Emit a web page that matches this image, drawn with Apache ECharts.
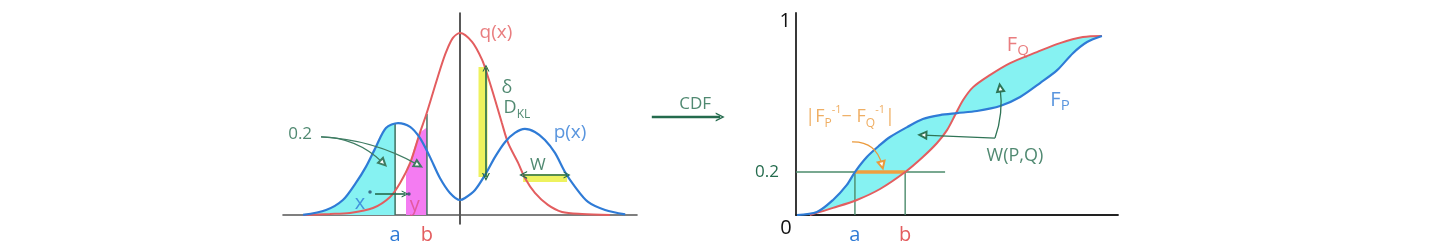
<!DOCTYPE html>
<html><head><meta charset="utf-8">
<script src="https://cdn.jsdelivr.net/npm/echarts@6/dist/echarts.min.js"></script>
<style>html,body{margin:0;padding:0;background:#fff}#c{width:1440px;height:245px}</style>
</head><body><div id="c"></div>
<script>
// ---------- Left panel: densities (x: axis units, y: q peak = 1) ----------
const densityQ = [[-5.32,0],[-4.41,0.005],[-3.73,0.011],[-2.95,0.038],[-2.37,0.099],[-2.03,0.176],[-1.69,0.286],[-1.36,0.451],[-1.15,0.549],[-0.92,0.670],[-0.68,0.797],[-0.47,0.896],[-0.24,0.973],[0,1.0],[0.41,0.951],[0.75,0.852],[0.95,0.758],[1.19,0.632],[1.42,0.505],[1.63,0.396],[1.97,0.286],[2.20,0.203],[2.54,0.121],[2.98,0.055],[3.46,0.016],[4.14,0.005],[5.08,0]];
const densityP = [[-5.32,0],[-4.54,0.027],[-3.97,0.082],[-3.53,0.176],[-3.19,0.264],[-2.85,0.374],[-2.51,0.478],[-2.10,0.505],[-1.69,0.484],[-1.36,0.423],[-1.02,0.319],[-0.68,0.203],[-0.34,0.121],[0,0.082],[0.17,0.093],[0.51,0.137],[0.85,0.220],[1.19,0.319],[1.53,0.401],[1.86,0.451],[2.20,0.473],[2.54,0.456],[2.88,0.412],[3.22,0.341],[3.56,0.236],[3.90,0.154],[4.34,0.071],[4.92,0.027],[5.60,0.003]];
const quantileA = -2.20, pAtA = 0.50;          // "a" on the left panel
const quantileB = -1.12, qAtB = 0.555;         // "b" on the left panel
const pAtAPeak = 0.505;
const shadeQ = [[-1.83,0.22],[-1.69,0.29],[-1.53,0.38],[-1.36,0.45],[-1.12,0.48]]; // magenta strip
const deltaBand = [[0.78,0.209],[0.78,0.813]];
const wBand = [[2.14,0.203],[3.63,0.203]];
const pointDots = [[-3.05,0.126],[-1.73,0.115]];
const leftTickValues = [quantileA, quantileB];
const leftTickLabels = ['a','b'];

// ---------- Right panel: CDFs ----------
const cdfP = [[0.03,0],[0.65,0.014],[1.15,0.070],[1.58,0.140],[1.83,0.200],[2.20,0.270],[2.61,0.326],[2.92,0.363],[3.45,0.409],[3.94,0.447],[4.47,0.465],[5.00,0.474],[5.62,0.484],[6.34,0.507],[6.96,0.549],[7.58,0.614],[8.11,0.674],[8.60,0.753],[9.04,0.805],[9.50,0.833]];
const cdfQ = [[0.43,0],[1.15,0.033],[1.89,0.070],[2.61,0.121],[3.39,0.200],[3.94,0.270],[4.38,0.335],[4.69,0.395],[4.94,0.465],[5.19,0.535],[5.50,0.595],[6.02,0.651],[6.65,0.707],[7.48,0.758],[8.20,0.800],[8.91,0.828],[9.50,0.833]];
const level = 0.2;
const invA = 1.83, invB = 3.39, levelLineEnd = 4.63;
const rightXTicks = [0, invA, invB];
const rightXLabels = ['0','a','b'];
const rightYTicks = [0.2, 0.903];
const rightYLabels = ['0.2','1'];

// ---------- Annotation arrows ----------
const leftDoubleArrows = [{coords:[[0.88,0.209],[0.88,0.808]]},{coords:[[2.14,0.22],[3.63,0.22]]}];
const leftSingleArrows = [{coords:[[-2.88,0.115],[-1.86,0.115]]}];
const leftLabelArrows = [{coords:[[-4.71,0.429],[-2.61,0.286]],curve:0.2},{coords:[[-4.71,0.429],[-1.42,0.275]],curve:0.12}];
const rightOrangeArrows = [{coords:[[1.74,0.340],[2.67,0.233]],curve:0.4}];
const rightGreenArrows = [{coords:[[6.18,0.358],[3.94,0.372]],curve:0},{coords:[[6.18,0.358],[6.34,0.591]],curve:-0.12}];
const cdfArrow = [{coords:[[0.05,0.267],[0.95,0.267]]}];

const FONT = "'Open Sans','Noto Sans',sans-serif";
const C = {red:'#e35d5f', blue:'#2f7bd6', green:'#246b4d', cyan:'#86f2f2', magenta:'#f47cf2',
           yellow:'#eef25e', orange:'#eb9a3c', axis:'#333', ink:'#3f6f5f', pinkText:'#e0508a'};
const CHEVRON = 'path://M0,10 L5,0 L10,10 L8.4,10 L5,3.2 L1.6,10 Z';

function lbl(value, text, color, size, rich) {
  return {value, label:{show:true, position:'inside', formatter:text, color, fontSize:size, fontFamily:FONT, rich: rich||{}}};
}
function labelSeries(xi, yi, items) {
  return {type:'scatter', xAxisIndex:xi, yAxisIndex:yi, symbolSize:1, itemStyle:{color:'transparent'},
          data:items, z:6, silent:true, clip:false};
}
function arrows(xi, yi, items, color, sym, size, width) {
  return {type:'lines', coordinateSystem:'cartesian2d', xAxisIndex:xi, yAxisIndex:yi, symbol:sym, symbolSize:size,
          lineStyle:{color, width, opacity:1}, z:5, silent:true, clip:false,
          data: items.map(it => ({coords: it.coords, lineStyle:{curveness: it.curve || 0}}))};
}
function seg(xi, yi, data, color, width, z) {
  return {type:'line', xAxisIndex:xi, yAxisIndex:yi, data, symbol:'none', lineStyle:{color, width}, z:z||3, silent:true};
}

const shadeP = densityP.filter(p => p[0] <= quantileA).concat([[quantileA, pAtA]]);
const polygon = cdfP.concat(cdfQ.slice().reverse());

const sub = (c, s) => ({color:c, fontSize:s, fontFamily:FONT, verticalAlign:'bottom', lineHeight:26});
const sup = (c, s) => ({color:c, fontSize:s, fontFamily:FONT, verticalAlign:'top', lineHeight:26});
const base = (c, s) => ({color:c, fontSize:s, fontFamily:FONT, lineHeight:26});

const option = {
  animation:false,
  backgroundColor:'#fff',
  grid:[
    {left:283, top:13, width:354, height:211, containLabel:false, outerBoundsMode:'none'},
    {left:796, top:13, width:322, height:202, containLabel:false, outerBoundsMode:'none'},
    {left:648, top:95, width:76, height:30, containLabel:false, outerBoundsMode:'none'}
  ],
  xAxis:[
    {gridIndex:0, type:'value', min:-6, max:6, splitLine:{show:false}, axisTick:{show:false},
     axisLine:{show:true, onZero:true, lineStyle:{color:'#555', width:1.6}},
     axisLabel:{show:true, customValues:leftTickValues, margin:1,
       formatter:v => { const i = leftTickValues.findIndex(t => Math.abs(t - v) < 1e-6); return i === 0 ? '{a|' + leftTickLabels[0] + '}' : '{b|' + leftTickLabels[1] + '}'; },
       rich:{a:{color:C.blue, fontSize:20, fontFamily:FONT}, b:{color:C.red, fontSize:20, fontFamily:FONT}}}},
    {gridIndex:1, type:'value', min:0, max:10, splitLine:{show:false}, axisTick:{show:false},
     axisLine:{show:true, onZero:true, lineStyle:{color:'#222', width:1.8}},
     axisLabel:{show:true, customValues:rightXTicks, margin:3,
       formatter:v => { const i = rightXTicks.findIndex(t => Math.abs(t - v) < 1e-6); return '{' + ['o','a','b'][i] + '|' + rightXLabels[i] + '}'; },
       rich:{o:{color:'#111', fontSize:20, fontFamily:FONT, padding:[0,20,0,0]},
             a:{color:C.blue, fontSize:20, fontFamily:FONT, padding:[7,0,0,0]},
             b:{color:C.red, fontSize:20, fontFamily:FONT, padding:[7,0,0,0]}}}},
    {gridIndex:2, type:'value', min:0, max:1, show:false}
  ],
  yAxis:[
    {gridIndex:0, type:'value', min:-0.05, max:1.11, splitLine:{show:false}, axisTick:{show:false}, axisLabel:{show:false},
     axisLine:{show:true, onZero:true, lineStyle:{color:'#222', width:1.5}}},
    {gridIndex:1, type:'value', min:0, max:0.94, splitLine:{show:false}, axisTick:{show:false},
     axisLine:{show:true, onZero:true, lineStyle:{color:'#222', width:1.8}},
     axisLabel:{show:true, customValues:rightYTicks, margin:5,
       formatter:v => (v < 0.5 ? '{g|' + rightYLabels[0] + '}' : '{k|' + rightYLabels[1] + '}'),
       rich:{g:{color:C.green, fontSize:17, fontFamily:FONT, padding:[0,12,0,0]}, k:{color:'#111', fontSize:20, fontFamily:FONT}}}},
    {gridIndex:2, type:'value', min:0, max:1, show:false}
  ],
  series:[
    // ---- left panel fills
    {type:'line', xAxisIndex:0, yAxisIndex:0, data:shadeP, symbol:'none', smooth:0.3, lineStyle:{width:0},
     areaStyle:{color:C.cyan, opacity:1}, z:1, silent:true},
    {type:'line', xAxisIndex:0, yAxisIndex:0, data:shadeQ, symbol:'none', smooth:0.2, lineStyle:{width:0},
     areaStyle:{color:C.magenta, opacity:1}, z:1, silent:true},
    seg(0,0, deltaBand, C.yellow, 9, 2),
    seg(0,0, wBand, C.yellow, 8, 2),
    seg(0,0, [[quantileA,0],[quantileA,pAtAPeak]], C.ink, 1.5, 3),
    seg(0,0, [[quantileB,0],[quantileB,qAtB]], C.ink, 1.5, 3),
    // ---- left curves
    {type:'line', xAxisIndex:0, yAxisIndex:0, data:densityQ, symbol:'none', smooth:0.3, lineStyle:{color:C.red, width:2}, z:4, silent:true},
    {type:'line', xAxisIndex:0, yAxisIndex:0, data:densityP, symbol:'none', smooth:0.3, lineStyle:{color:C.blue, width:2.2}, z:4, silent:true},
    {type:'scatter', xAxisIndex:0, yAxisIndex:0, data:pointDots, symbolSize:3.5, itemStyle:{color:'#2a4f6a'}, z:6, silent:true},
    arrows(0,0, leftDoubleArrows, C.green, [CHEVRON, CHEVRON], [8,7], 1.6),
    arrows(0,0, leftSingleArrows, C.green, ['none', CHEVRON], [8,7], 1.6),
    arrows(0,0, leftLabelArrows, '#3f7c63', ['none','emptyTriangle'], 7, 1.2),
    labelSeries(0,0, [
      lbl([1.22,1.0], 'q(x)', C.red, 19),
      lbl([3.73,0.45], 'p(x)', C.blue, 19),
      lbl([1.59,0.70], 'δ', C.green, 18),
      lbl([1.93,0.59], '{d|D}{k|KL}', C.green, 18, {d:base(C.green,18), k:sub(C.green,12)}),
      lbl([2.64,0.275], 'W', C.green, 17),
      lbl([-5.42,0.445], '0.2', C.green, 17),
      lbl([-3.39,0.066], 'x', C.blue, 20),
      lbl([-1.53,0.055], 'y', C.pinkText, 20)
    ]),
    // ---- right panel
    {type:'custom', xAxisIndex:1, yAxisIndex:1, data:[[0,0]], z:1, silent:true, clip:false,
     renderItem:(params, api) => ({type:'polygon', shape:{points: polygon.map(p => api.coord(p))}, style:{fill:C.cyan}})},
    seg(1,1, [[0,level],[levelLineEnd,level]], '#4b8b6b', 1.4, 3),
    seg(1,1, [[invA,0],[invA,level]], '#4b8b6b', 1.4, 3),
    seg(1,1, [[invB,0],[invB,level]], '#4b8b6b', 1.4, 3),
    seg(1,1, [[invA,level],[invB,level]], '#f0a040', 3.5, 4),
    {type:'line', xAxisIndex:1, yAxisIndex:1, data:cdfQ, symbol:'none', smooth:0.3, lineStyle:{color:C.red, width:2}, z:4, silent:true},
    {type:'line', xAxisIndex:1, yAxisIndex:1, data:cdfP, symbol:'none', smooth:0.3, lineStyle:{color:C.blue, width:2.2}, z:4, silent:true},
    arrows(1,1, rightOrangeArrows, C.orange, ['none','emptyTriangle'], 7, 1.2),
    arrows(1,1, rightGreenArrows, '#2f7456', ['none','emptyTriangle'], 7, 1.3),
    labelSeries(1,1, [
      lbl([6.89,0.791], '{f|F}{s|Q}', C.red, 20, {f:base(C.red,20), s:sub(C.red,15)}),
      lbl([8.2,0.535], '{f|F}{s|P}', C.blue, 20, {f:base(C.blue,20), s:sub(C.blue,15)}),
      lbl([1.68,0.456], '{n||F}{s|P}{t|-1}{n|− F}{s|Q}{t|-1}{n||}', C.orange, 18,
          {n:base(C.orange,18), s:sub(C.orange,12), t:sup(C.orange,11)}),
      lbl([6.80,0.275], 'W(P,Q)', C.green, 18)
    ]),
    // ---- middle "CDF" arrow
    arrows(2,2, cdfArrow, C.green, ['none', CHEVRON], [13,9], 2.4),
    labelSeries(2,2, [lbl([0.62,0.7], 'CDF', C.green, 17)])
  ]
};
const chart = echarts.init(document.getElementById('c'), null, {renderer:'canvas'});
chart.setOption(option);
</script>
</body></html>
